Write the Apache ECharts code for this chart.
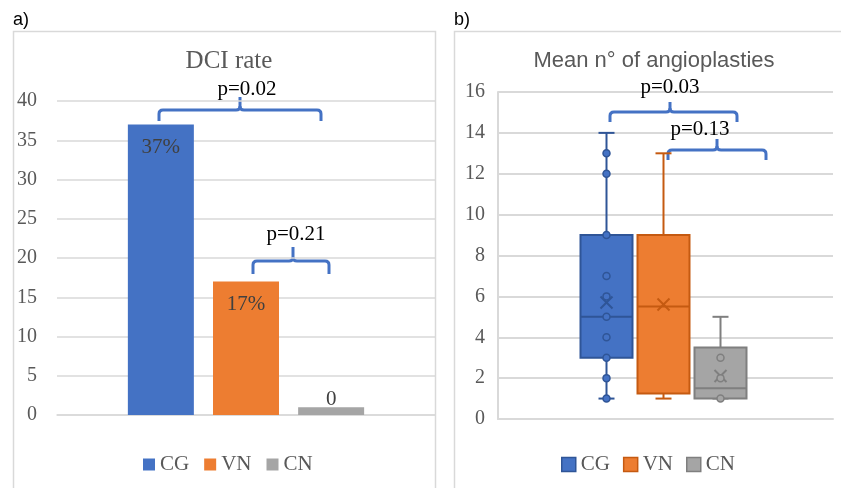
<!DOCTYPE html>
<html>
<head>
<meta charset="utf-8">
<script src="https://cdn.jsdelivr.net/npm/echarts@6/dist/echarts.min.js"></script>
<style>
  html, body { margin: 0; padding: 0; background: #fff; }
  #chart { width: 841px; height: 488px; }
</style>
</head>
<body>
<div id="chart"></div>
<script>
const groups = ['CG', 'VN', 'CN'];

// a) DCI rate
const dciValues = [37, 17, 1];
const dciLabels = ['37%', '17%', '0'];
const dciTicks = [0, 5, 10, 15, 20, 25, 30, 35, 40];

// b) number of angioplasties: [min, q1, median, q3, max]
const cgBox = [1, 3, 5, 9, 14];
const vnBox = [1, 1.25, 5.5, 9, 13];
const cnBox = [1, 1, 1.5, 3.5, 5];
const boxMeans = [5.7, 5.6, 2.1];
const cgPoints = [1, 2, 3, 4, 5, 6, 7, 9, 12, 13];
const cnPoints = [1, 2, 3];
const angioTicks = [0, 2, 4, 6, 8, 10, 12, 14, 16];

const pLabels = ['p=0.02', 'p=0.21', 'p=0.03', 'p=0.13'];

const fills = ['#4472C4', '#ED7D31', '#A5A5A5'];
const borders = ['#2F5597', '#C55A11', '#7F7F7F'];
const SERIF = 'Liberation Serif';
const GRID_LINE = '#d9d9d9';
const BOX_W = 52;
const BOX_OFFSETS = [-59, -2, 55];

const chart = echarts.init(document.getElementById('chart'));

function boxSeries(i, stats) {
  return {
    name: groups[i],
    type: 'custom',
    xAxisIndex: 1,
    yAxisIndex: 1,
    data: [[0, ...stats, boxMeans[i]]],
    encode: { x: 0, y: [1, 2, 3, 4, 5, 6] },
    renderItem: function (params, api) {
      const cx = api.coord([0, 0])[0] + BOX_OFFSETS[i];
      const py = k => api.coord([0, api.value(k)])[1];
      const yMin = py(1), yQ1 = py(2), yMed = py(3), yQ3 = py(4), yMax = py(5), yMean = py(6);
      const hw = BOX_W / 2, cw = 8, mw = 6;
      const line = (x1, y1, x2, y2) => ({
        type: 'line',
        shape: { x1, y1, x2, y2 },
        style: { stroke: borders[i], lineWidth: 2 }
      });
      return {
        type: 'group',
        children: [
          line(cx, yQ3, cx, yMax),
          line(cx - cw, yMax, cx + cw, yMax),
          line(cx, yQ1, cx, yMin),
          line(cx - cw, yMin, cx + cw, yMin),
          {
            type: 'rect',
            shape: { x: cx - hw, y: yQ3, width: 2 * hw, height: yQ1 - yQ3 },
            style: { fill: fills[i], stroke: borders[i], lineWidth: 2 }
          },
          line(cx - hw, yMed, cx + hw, yMed),
          line(cx - mw, yMean - mw, cx + mw, yMean + mw),
          line(cx - mw, yMean + mw, cx + mw, yMean - mw)
        ]
      };
    }
  };
}

function pointSeries(i, pts) {
  return {
    name: groups[i],
    type: 'scatter',
    xAxisIndex: 1,
    yAxisIndex: 1,
    data: pts.map(v => [0, v]),
    symbol: 'circle',
    symbolSize: 7,
    symbolOffset: [BOX_OFFSETS[i], 0],
    itemStyle: { color: fills[i], borderColor: borders[i], borderWidth: 1.5, opacity: 1 },
    z: 5
  };
}

// curly bracket: ends drop down, tick in the middle points up
function brace(x1, x2, xc, y0, drop, rise) {
  const r = 4;
  const st = { stroke: '#4472C4', lineWidth: 3, fill: 'none' };
  const ln = (a, b, c, d) => ({ type: 'line', shape: { x1: a, y1: b, x2: c, y2: d }, style: st });
  const qc = (a, b, cx, cy, c, d) => ({ type: 'bezierCurve', shape: { x1: a, y1: b, cpx1: cx, cpy1: cy, x2: c, y2: d }, style: st });
  return {
    type: 'group',
    z: 10,
    children: [
      ln(x1, y0 + drop, x1, y0 + r),
      qc(x1, y0 + r, x1, y0, x1 + r, y0),
      ln(x1 + r, y0, xc - r, y0),
      qc(xc - r, y0, xc, y0, xc, y0 - r),
      ln(xc, y0 - r, xc, y0 - rise),
      qc(xc, y0 - r, xc, y0, xc + r, y0),
      ln(xc + r, y0, x2 - r, y0),
      qc(x2 - r, y0, x2, y0, x2, y0 + r),
      ln(x2, y0 + r, x2, y0 + drop)
    ]
  };
}

function pText(txt, x, y) {
  return {
    type: 'text',
    x: x, y: y,
    z: 11,
    style: {
      text: txt, fill: '#000', font: `21px "${SERIF}"`,
      align: 'center', verticalAlign: 'middle'
    }
  };
}

const option = {
  animation: false,
  title: [
    {
      text: 'DCI rate', left: 224, top: 44, textAlign: 'center',
      textStyle: { fontFamily: SERIF, fontSize: 25, fontWeight: 'normal', color: '#595959' }
    },
    {
      text: 'Mean n° of angioplasties', left: 649, top: 45, textAlign: 'center',
      textStyle: { fontFamily: 'Liberation Sans', fontSize: 22, fontWeight: 'normal', color: '#595959' }
    }
  ],
  legend: [
    {
      left: 143, top: 454, padding: 0,
      icon: 'rect', itemWidth: 12, itemHeight: 12, itemGap: 15,
      textStyle: { fontFamily: SERIF, fontSize: 21, color: '#595959' },
      data: groups.map((g, i) => ({ name: g, itemStyle: { color: fills[i], borderWidth: 0 } })),
      selectedMode: false
    },
    {
      left: 561, top: 454, padding: 0,
      icon: 'rect', itemWidth: 14, itemHeight: 14, itemGap: 13,
      textStyle: { fontFamily: SERIF, fontSize: 21, color: '#595959' },
      data: groups.map((g, i) => ({ name: g, itemStyle: { color: fills[i], borderColor: borders[i], borderWidth: 1.5 } })),
      selectedMode: false
    }
  ],
  grid: [
    { left: 57, right: 406, top: 101, bottom: 73 },
    { left: 498, right: 8, top: 92, bottom: 69 }
  ],
  xAxis: [
    {
      gridIndex: 0, type: 'category', data: [''],
      axisLine: { lineStyle: { color: GRID_LINE, width: 1.5 } },
      axisTick: { show: false }, axisLabel: { show: false }
    },
    {
      gridIndex: 1, type: 'category', data: [''],
      axisLine: { lineStyle: { color: GRID_LINE, width: 2 } },
      axisTick: { show: false }, axisLabel: { show: false }
    }
  ],
  yAxis: [
    {
      gridIndex: 0, type: 'value',
      min: dciTicks[0], max: dciTicks[dciTicks.length - 1], interval: dciTicks[1] - dciTicks[0],
      axisLine: { show: false }, axisTick: { show: false },
      axisLabel: { fontFamily: SERIF, fontSize: 20, color: '#595959', margin: 20 },
      splitLine: { lineStyle: { color: GRID_LINE, width: 1.5 } }
    },
    {
      gridIndex: 1, type: 'value',
      min: angioTicks[0], max: angioTicks[angioTicks.length - 1], interval: angioTicks[1] - angioTicks[0],
      axisLine: { show: true, lineStyle: { color: GRID_LINE, width: 2 } }, axisTick: { show: false },
      axisLabel: { fontFamily: SERIF, fontSize: 20, color: '#595959', margin: 13 },
      splitLine: { lineStyle: { color: GRID_LINE, width: 2 } }
    }
  ],
  series: [
    ...groups.map((g, i) => ({
      name: g,
      type: 'bar',
      xAxisIndex: 0, yAxisIndex: 0,
      data: [dciValues[i]],
      barWidth: 66,
      barGap: '29%',
      itemStyle: { color: fills[i] },
      label: {
        show: true,
        position: i < 2 ? 'insideTop' : 'top',
        distance: i < 2 ? 12 : -3,
        formatter: dciLabels[i],
        fontFamily: SERIF, fontSize: 21, color: '#404040'
      }
    })),
    boxSeries(0, cgBox),
    boxSeries(1, vnBox),
    boxSeries(2, cnBox),
    pointSeries(0, cgPoints),
    pointSeries(2, cnPoints)
  ],
  graphic: [
    { type: 'rect', shape: { x: 13.5, y: 31.5, width: 422, height: 470 }, style: { fill: 'none', stroke: GRID_LINE, lineWidth: 1.5 }, silent: true },
    { type: 'rect', shape: { x: 454.5, y: 31.5, width: 400, height: 470 }, style: { fill: 'none', stroke: GRID_LINE, lineWidth: 1.5 }, silent: true },
    { type: 'text', x: 13, y: 11, style: { text: 'a)', fill: '#000', font: '18px "Liberation Sans"' } },
    { type: 'text', x: 454, y: 11, style: { text: 'b)', fill: '#000', font: '18px "Liberation Sans"' } },
    brace(159, 321, 240, 110, 11, 13),
    brace(253, 329, 293, 261, 13, 14),
    brace(610, 737, 670, 112, 10, 10),
    brace(668, 766, 717, 150, 10, 11),
    pText(pLabels[0], 247, 89),
    pText(pLabels[1], 296, 234),
    pText(pLabels[2], 670, 87),
    pText(pLabels[3], 700, 129)
  ]
};

chart.setOption(option);
</script>
</body>
</html>
